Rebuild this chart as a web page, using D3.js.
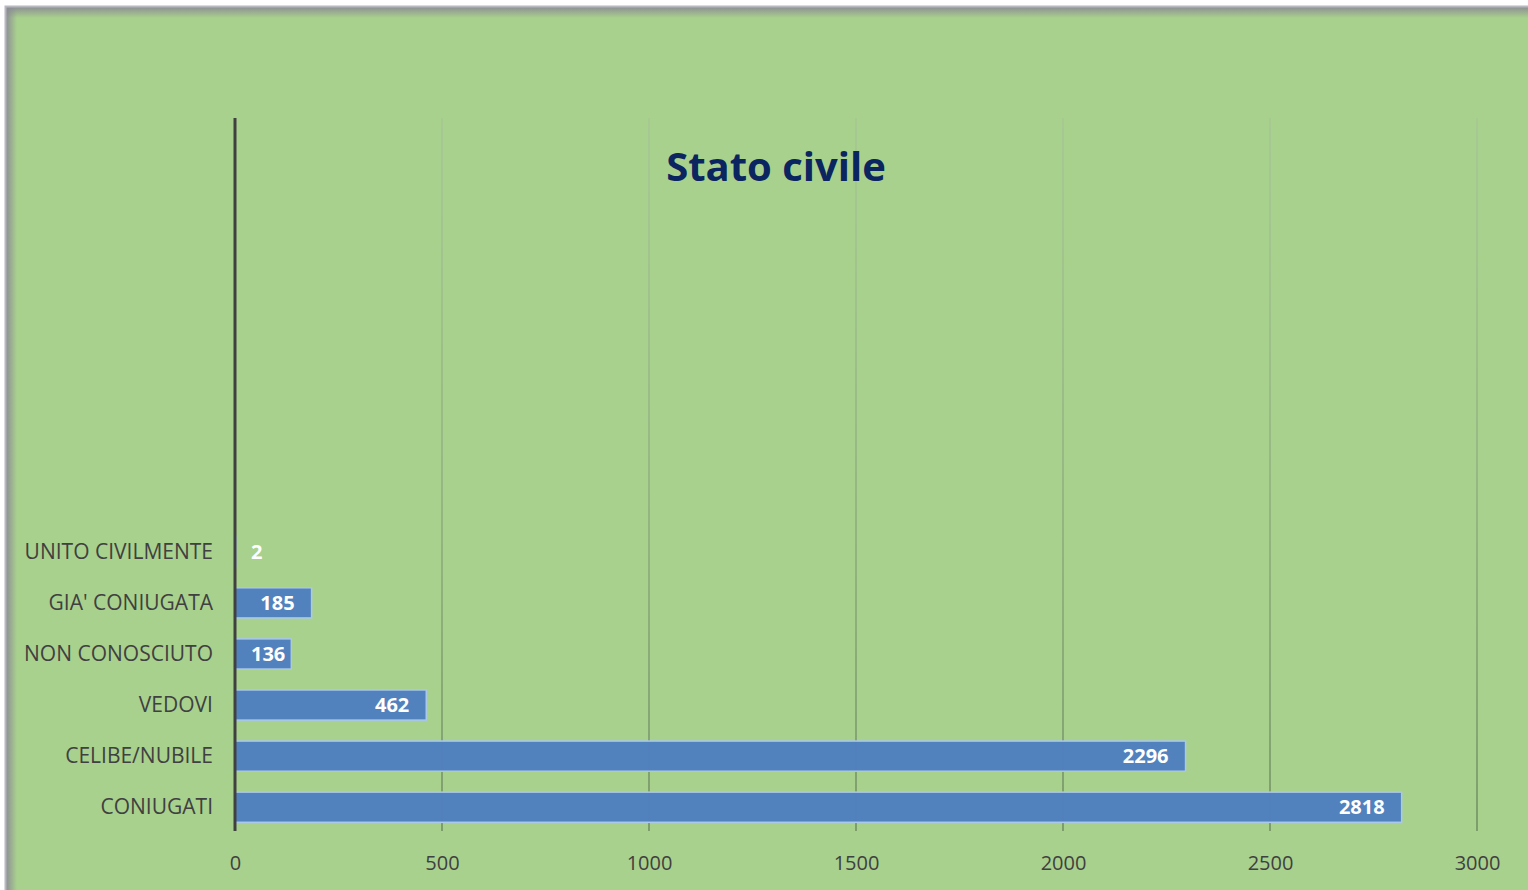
<!DOCTYPE html>
<html>
<head>
<meta charset="utf-8">
<script src="https://cdn.jsdelivr.net/npm/d3@7"></script>
<style>
  html, body { margin: 0; padding: 0; background: #ffffff; }
  svg { display: block; font-family: "Open Sans", "Noto Sans", sans-serif; }
</style>
</head>
<body>
<div id="container"></div>
<script>
// categories from top to bottom
const categories = [
  "UNITO CIVILMENTE",
  "GIA' CONIUGATA",
  "NON CONOSCIUTO",
  "VEDOVI",
  "CELIBE/NUBILE",
  "CONIUGATI",
];
const values = [2, 185, 136, 462, 2296, 2818];
const ticks = [0, 500, 1000, 1500, 2000, 2500, 3000];
const title = "Stato civile";

const width = 1528;
const height = 890;

// plot area
const x0 = 235;
const x1 = 1477;
const plotTop = 118;
const plotBottom = 831;

const svg = d3
  .select("#container")
  .append("svg")
  .attr("width", width)
  .attr("height", height);

const defs = svg.append("defs");

// shadow on left and top edges
const shadowLeft = defs
  .append("linearGradient")
  .attr("id", "shadowLeft")
  .attr("x1", 0).attr("x2", 1).attr("y1", 0).attr("y2", 0);
shadowLeft.append("stop").attr("offset", 0).attr("stop-color", "#8a8a94").attr("stop-opacity", 1);
shadowLeft.append("stop").attr("offset", 1).attr("stop-color", "#8a8a94").attr("stop-opacity", 0);

const shadowTop = defs
  .append("linearGradient")
  .attr("id", "shadowTop")
  .attr("x1", 0).attr("x2", 0).attr("y1", 0).attr("y2", 1);
shadowTop.append("stop").attr("offset", 0).attr("stop-color", "#8a8a94").attr("stop-opacity", 1);
shadowTop.append("stop").attr("offset", 1).attr("stop-color", "#8a8a94").attr("stop-opacity", 0);

// gridlines fade out toward the top
const gridGrad = defs
  .append("linearGradient")
  .attr("id", "gridGrad")
  .attr("gradientUnits", "userSpaceOnUse")
  .attr("x1", 0).attr("x2", 0)
  .attr("y1", plotBottom).attr("y2", plotTop);
gridGrad.append("stop").attr("offset", 0).attr("stop-color", "#66805a").attr("stop-opacity", 1);
gridGrad.append("stop").attr("offset", 1).attr("stop-color", "#a0b896").attr("stop-opacity", 0.5);

// background panel
svg.append("rect")
  .attr("x", 5).attr("y", 6)
  .attr("width", width - 5).attr("height", height - 6)
  .attr("fill", "#a9d18e");
svg.append("rect")
  .attr("x", 5).attr("y", 6)
  .attr("width", 12).attr("height", height - 6)
  .attr("fill", "url(#shadowLeft)");
svg.append("rect")
  .attr("x", 5).attr("y", 6)
  .attr("width", width - 5).attr("height", 12)
  .attr("fill", "url(#shadowTop)");
svg.append("path")
  .attr("d", `M5.5,${height} V6.5 H${width}`)
  .attr("fill", "none")
  .attr("stroke", "#b8b8c0")
  .attr("stroke-width", 2);

// scales
const scaleX = d3.scaleLinear().domain([0, 3000]).range([x0, x1]);
const step = 51;
const scaleY = d3
  .scaleBand()
  .domain(categories)
  .range([plotBottom + 1.5 - step * categories.length, plotBottom + 1.5])
  .paddingInner(0.41)
  .paddingOuter(0.2);

// gridlines
svg.append("g")
  .selectAll("line")
  .data(ticks.slice(1))
  .enter()
  .append("line")
  .attr("x1", (d) => scaleX(d))
  .attr("x2", (d) => scaleX(d))
  .attr("y1", plotTop)
  .attr("y2", plotBottom)
  .attr("stroke", "url(#gridGrad)")
  .attr("stroke-width", 1.3);

// x axis labels
const xAxis = d3
  .axisBottom(scaleX)
  .tickValues(ticks)
  .tickFormat(d3.format("d"))
  .tickSize(0)
  .tickPadding(25);
const gx = svg.append("g")
  .attr("transform", `translate(0, ${plotBottom})`)
  .call(xAxis);
gx.select(".domain").remove();
gx.selectAll("text")
  .attr("fill", "#404040")
  .style("font-size", "20px")
  .style("font-family", '"Open Sans", sans-serif');

// y axis labels
const yAxis = d3.axisLeft(scaleY).tickSize(0).tickPadding(22);
const gy = svg.append("g")
  .attr("transform", `translate(${x0}, 0)`)
  .call(yAxis);
gy.select(".domain").remove();
gy.selectAll("text")
  .attr("fill", "#404040")
  .style("font-size", "21px")
  .style("font-family", '"Open Sans", sans-serif');

// bars
svg.append("g")
  .selectAll("rect")
  .data(values)
  .enter()
  .append("rect")
  .attr("x", scaleX(0))
  .attr("y", (d, i) => scaleY(categories[i]))
  .attr("width", (d) => scaleX(d) - scaleX(0))
  .attr("height", scaleY.bandwidth())
  .attr("fill", "#4f7fbf")
  .attr("stroke", "#a9c8ea")
  .attr("stroke-width", 1.5)
  .attr("fill-opacity", 0.97);

// value labels, inside end
const labels = svg.append("g")
  .selectAll("text")
  .data(values)
  .enter()
  .append("text")
  .attr("y", (d, i) => scaleY(categories[i]) + scaleY.bandwidth() / 2)
  .attr("dy", "0.36em")
  .attr("text-anchor", "end")
  .attr("fill", "#ffffff")
  .style("font-size", "20px")
  .style("font-weight", "bold")
  .text((d) => d);
labels.attr("x", function (d) {
  const w = this.getComputedTextLength();
  return Math.max(scaleX(d) - 17, scaleX(0) + 16 + w);
});

// vertical axis line
svg.append("line")
  .attr("x1", x0).attr("x2", x0)
  .attr("y1", plotTop).attr("y2", plotBottom)
  .attr("stroke", "#404040")
  .attr("stroke-width", 3);

// title
svg.append("text")
  .attr("x", 776)
  .attr("y", 181)
  .attr("text-anchor", "middle")
  .attr("fill", "#0b2560")
  .style("font-size", "40px")
  .style("font-weight", "bold")
  .text(title);
</script>
</body>
</html>
